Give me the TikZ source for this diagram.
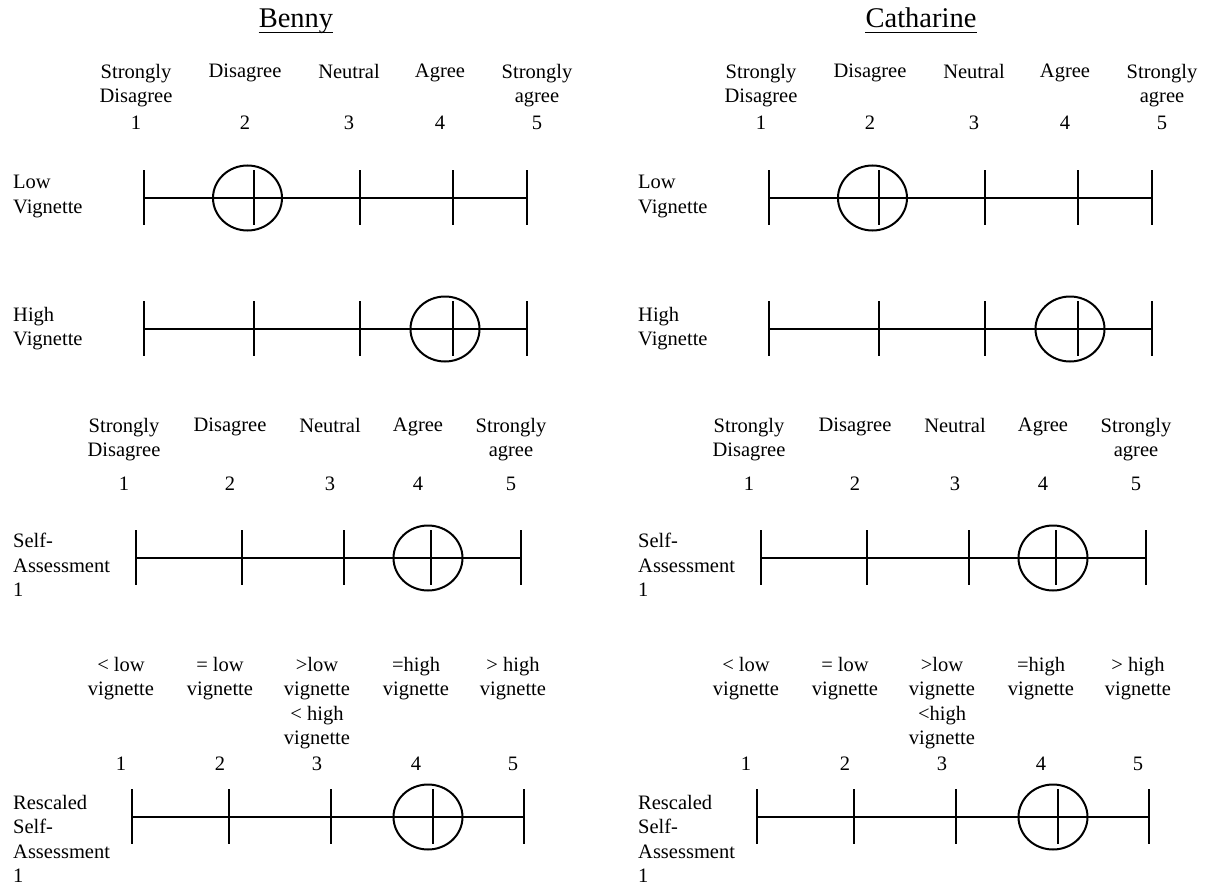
\documentclass[tikz,border=0pt]{standalone}
\usepackage{fontspec}
\setmainfont{Liberation Serif}

% one scale: y, first x, last x, tick list, circle x
\newcommand{\likertrow}[5]{%
  \draw[bar] (#2,#1) -- (#3,#1);
  \foreach \tk in {#4} \draw[bar] (\tk,#1-28) -- (\tk,#1+27);
  \draw[bar] (#5,#1) ellipse [x radius=34.5pt, y radius=32.5pt];
}

\begin{document}
\begin{tikzpicture}[x=1pt, y=-1pt,
    bar/.style={line width=2pt},
    lbl/.style={font=\fontsize{20.5}{24.5}\selectfont, inner sep=0pt, align=center, anchor=north},
    num/.style={font=\fontsize{20.5}{24.5}\selectfont, inner sep=0pt, anchor=base},
    rowlbl/.style={font=\fontsize{20.5}{24.5}\selectfont, inner sep=0pt, align=left, anchor=north west},
    ttl/.style={font=\fontsize{28.5}{34}\selectfont, inner sep=0pt, anchor=base}]
  \useasboundingbox (0,0) rectangle (1207,888);
  \foreach \who/\dx/\hv in {Benny/0/{< high}, Catharine/625/{<high}} {
    \begin{scope}[xshift=\dx pt]
      \node[ttl] (t-\who) at (296,28) {\who};
      \draw[line width=1.5pt] ([yshift=-4.5pt]t-\who.base west) -- ([yshift=-4.5pt]t-\who.base east);
      % vignette scale
      \foreach \x/\txt [count=\i] in {136/{Strongly\\Disagree}, 245/Disagree, 349/Neutral, 440/Agree, 537/{Strongly\\agree}} {
        \node[lbl] (a-\who-\i) at (\x,64) {\txt};
        \node[num] (an-\who-\i) at (\x,130) {\i};
      }
      \node[rowlbl] (low-\who) at (13,175) {Low\\Vignette};
      \likertrow{198}{144}{527}{144,254,360,453,527}{247.5}
      \node[rowlbl] (high-\who) at (13,307) {High\\Vignette};
      \likertrow{329}{144}{527}{144,254,360,453,527}{445}
      % self assessment
      \foreach \x/\txt [count=\i] in {124/{Strongly\\Disagree}, 230/Disagree, 330/Neutral, 418/Agree, 511/{Strongly\\agree}} {
        \node[lbl] (b-\who-\i) at (\x,418) {\txt};
        \node[num] (bn-\who-\i) at (\x,490) {\i};
      }
      \node[rowlbl] (self-\who) at (13,533) {Self-\\Assessment\\1};
      \likertrow{558}{136}{521}{136,242,344,431,521}{428}
      % rescaled
      \foreach \x/\txt [count=\i] in {121/{< low\\vignette}, 220/{= low\\vignette}, 317/{>low\\vignette\\\hv\\vignette}, 416/{=high\\vignette}, 513/{> high\\vignette}} {
        \node[lbl] (c-\who-\i) at (\x,657) {\txt};
        \node[num] (cn-\who-\i) at (\x,770) {\i};
      }
      \node[rowlbl] (resc-\who) at (13,795) {Rescaled\\Self-\\Assessment\\1};
      \likertrow{817}{132}{524}{132,229,331,433,524}{428}
    \end{scope}
  }
\end{tikzpicture}
\end{document}
